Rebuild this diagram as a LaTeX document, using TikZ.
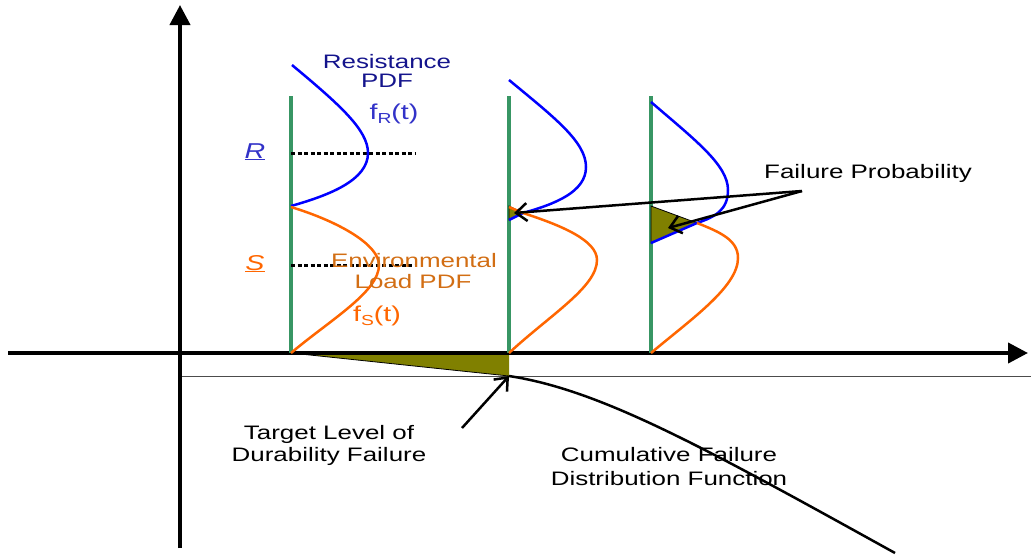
\documentclass[tikz,border=0pt]{standalone}
\usepackage{fontspec}
\setmainfont{Liberation Sans}[FakeStretch=1.33]
\usetikzlibrary{arrows.meta}
\definecolor{axgreen}{RGB}{56,150,100}
\definecolor{pdfblue}{RGB}{0,0,255}
\definecolor{pdforange}{RGB}{255,102,0}
\definecolor{fillolive}{RGB}{128,128,0}
\definecolor{navytext}{RGB}{20,20,140}
\definecolor{rblue}{RGB}{50,50,200}
\definecolor{loadtext}{RGB}{210,110,20}
\begin{document}
\begin{tikzpicture}[x=1pt,y=-1pt,
  lbl/.style={inner sep=0pt,anchor=base,font=\fontsize{19.5}{20}\selectfont},
  biglbl/.style={inner sep=0pt,anchor=base,font=\fontsize{21.5}{22}\selectfont},
  axisline/.style={line width=4pt,-{Triangle[length=20pt,width=20pt]}},
  timeline/.style={axgreen,line width=4pt},
  bluecurve/.style={pdfblue,line width=2.5pt},
  orangecurve/.style={pdforange,line width=2.5pt},
  meanline/.style={black,line width=3pt,dash pattern=on 4pt off 2.5pt},
  pointer/.style={black,line width=2.5pt,-{Straight Barb[length=11pt,width=18pt]}},
  overlap/.style={fill=fillolive,draw=black,line width=0.8pt},
]
\useasboundingbox (0,0) rectangle (1031,555);

% coordinates
\coordinate (origin) at (180,353);
\coordinate (ybot) at (180,548);
\coordinate (ytop) at (180,5);
\coordinate (xleft) at (8,353);
\coordinate (xright) at (1028,353);
\coordinate (thinL) at (180,376);
\coordinate (thinR) at (1031,376);
\coordinate (t1) at (291,353);
\coordinate (t2) at (509,353);
\coordinate (t3) at (651,353);
\coordinate (t2low) at (509,376);
\coordinate (cdfend) at (895,553);
\coordinate (fpsrc) at (802,191);
\coordinate (fptip1) at (514,213);
\coordinate (fptip2) at (668,228);
\coordinate (tlsrc) at (462,428);

% wedge under axis
\fill[fillolive] (t1) -- (t2) -- (t2low) -- cycle;
\draw[black,line width=0.8pt] (t1) -- (t2low);

% thin line
\draw[black!70,line width=1pt] (thinL) -- (thinR);

% axes
\draw[axisline] (ybot) -- (ytop);
\draw[axisline] (xleft) -- (xright);

% vertical time lines
\draw[timeline] (291,96) -- (t1);
\draw[timeline] (509,96) -- (t2);
\draw[timeline] (651,96) -- (t3);

% overlap triangles
\draw[overlap] (509,206) -- (523,213) -- (509,220) -- cycle;
\draw[overlap] (651,206) -- (697,223) -- (651,243) -- cycle;

% mean lines
\draw[meanline] (291,153) -- (415,153);
\draw[meanline] (291,265) -- (415,265);

% PDFs at t1
\draw[bluecurve] (292,65) .. controls (340,105) and (368,130) .. (368,153)
   .. controls (368,180) and (330,195) .. (291,206);
\draw[orangecurve] (291,207) .. controls (340,222) and (379,245) .. (379,265)
   .. controls (379,292) and (330,320) .. (t1);

% PDFs at t2
\draw[bluecurve] (509,80) .. controls (555,118) and (586,142) .. (586,167)
   .. controls (586,192) and (555,204) .. (523,213) -- (509,220);
\draw[orangecurve] (509,207) -- (523,213) .. controls (560,225) and (597,240) .. (597,260)
   .. controls (597,287) and (550,315) .. (t2);

% PDFs at t3
\draw[bluecurve] (651,102) .. controls (695,140) and (728,165) .. (728,190)
   .. controls (728,210) and (715,217) .. (697,223) -- (651,243);
\draw[orangecurve] (697,223) .. controls (720,232) and (738,240) .. (738,258)
   .. controls (738,287) and (690,320) .. (t3);

% cumulative failure curve
\draw[black,line width=2.5pt] (t2low) .. controls (600,390) and (700,445) .. (cdfend);

% pointers
\draw[pointer] (fpsrc) -- (fptip1);
\draw[pointer] (fpsrc) -- (fptip2);
\draw[pointer] (tlsrc) -- (t2low);

% labels
\node[lbl,text=navytext] (res1) at (387,68) {Resistance};
\node[lbl,text=navytext] (res2) at (387,87) {PDF};
\node[biglbl,text=rblue] (fR) at (394,119) {f\raisebox{-4pt}{\fontsize{14.5}{15}\selectfont R}(t)};
\node[biglbl,text=rblue] (Rlab) at (255,158) {\underline{\textit{R}}};
\node[biglbl,text=pdforange] (Slab) at (255,270) {\underline{\textit{S}}};
\node[lbl,text=loadtext] (env1) at (414,267) {Environmental};
\node[lbl,text=loadtext] (env2) at (413,288) {Load PDF};
\node[biglbl,text=pdforange] (fS) at (377,321) {f\raisebox{-4pt}{\fontsize{14.5}{15}\selectfont S}(t)};
\node[lbl] (fp) at (868,178) {Failure Probability};
\node[lbl] (tl1) at (329,439) {Target Level of};
\node[lbl] (tl2) at (329,461.5) {Durability Failure};
\node[lbl] (cf1) at (669,461.5) {Cumulative Failure};
\node[lbl] (cf2) at (669,485.5) {Distribution Function};
\end{tikzpicture}
\end{document}
